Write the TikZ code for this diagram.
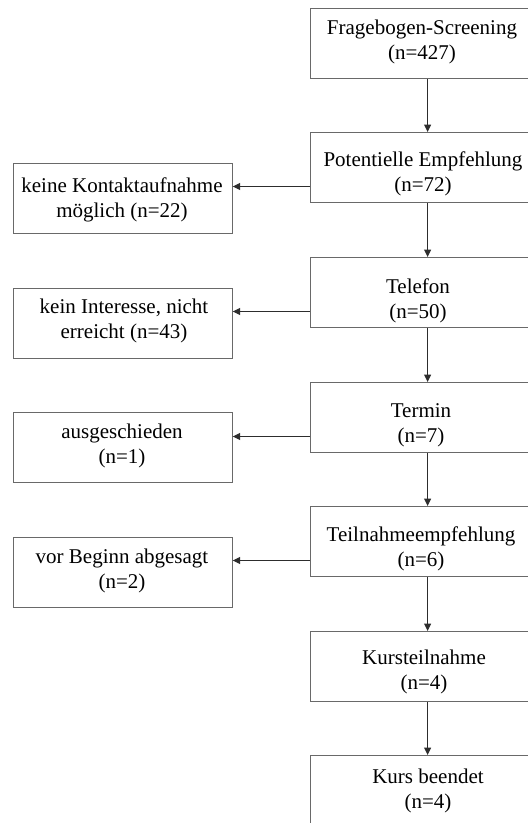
\documentclass[tikz,border=0pt]{standalone}
\usepackage{fontspec}
\setmainfont{Liberation Serif}
\usetikzlibrary{arrows.meta,calc}
\definecolor{boxgray}{RGB}{105,105,105}
\definecolor{arrgray}{RGB}{45,45,45}
\tikzset{
  box/.style={draw=boxgray, line width=1.2pt, inner sep=0pt, anchor=north west,
    minimum height=70pt},
  mainbox/.style={box, minimum width=234pt},
  sidebox/.style={box, minimum width=218.5pt},
  txt/.style={inner sep=0pt, anchor=base, align=center, font=\fontsize{21}{25}\selectfont},
  arr/.style={draw=arrgray, line width=1pt, -{Triangle[length=7.5pt,width=7pt]}}
}
\begin{document}
\begin{tikzpicture}[x=1pt,y=-1pt]
\clip (0,0) rectangle (528,823);
\fill[white] (0,0) rectangle (528,823);
% main column
\node[mainbox] (m1) at (310,8)   {};
\node[mainbox] (m2) at (310,132) {};
\node[mainbox] (m3) at (310,257) {};
\node[mainbox] (m4) at (310,382) {};
\node[mainbox] (m5) at (310,506) {};
\node[mainbox] (m6) at (310,631) {};
\node[mainbox] (m7) at (310,755) {};
% text nodes (anchor = baseline of the second line)
\node[txt] (t1) at (422,59)  {Fragebogen-Screening\\(n=427)};
\node[txt] (t2) at (423,191) {Potentielle Empfehlung\\(n=72)};
\node[txt] (t3) at (418,318) {Telefon\\(n=50)};
\node[txt] (t4) at (421,442) {Termin\\(n=7)};
\node[txt] (t5) at (421,566) {Teilnahmeempfehlung\\(n=6)};
\node[txt] (t6) at (424,689) {Kursteilnahme\\(n=4)};
\node[txt] (t7) at (428,808) {Kurs beendet\\(n=4)};
% side column
\node[sidebox] (l1) at (13,163) {};
\node[sidebox] (l2) at (13,288) {};
\node[sidebox] (l3) at (13,412) {};
\node[sidebox] (l4) at (13,537) {};
\node[txt] (u1) at (122,217) {keine Kontaktaufnahme\\möglich (n=22)};
\node[txt] (u2) at (124,338) {kein Interesse, nicht\\erreicht (n=43)};
\node[txt] (u3) at (122,463) {ausgeschieden\\(n=1)};
\node[txt] (u4) at (122,588) {vor Beginn abgesagt\\(n=2)};
% connectors
\foreach \a/\b in {m1/m2,m2/m3,m3/m4,m4/m5,m5/m6,m6/m7}
  \draw[arr] (\a.south) -- (\b.north);
\foreach \a/\b in {m2/l1,m3/l2,m4/l3,m5/l4}{
  \coordinate (s\b) at ($(\a.north west)+(0,54.5)$);
  \draw[arr] (s\b) -- (s\b -| \b.east);
}
\end{tikzpicture}
\end{document}
